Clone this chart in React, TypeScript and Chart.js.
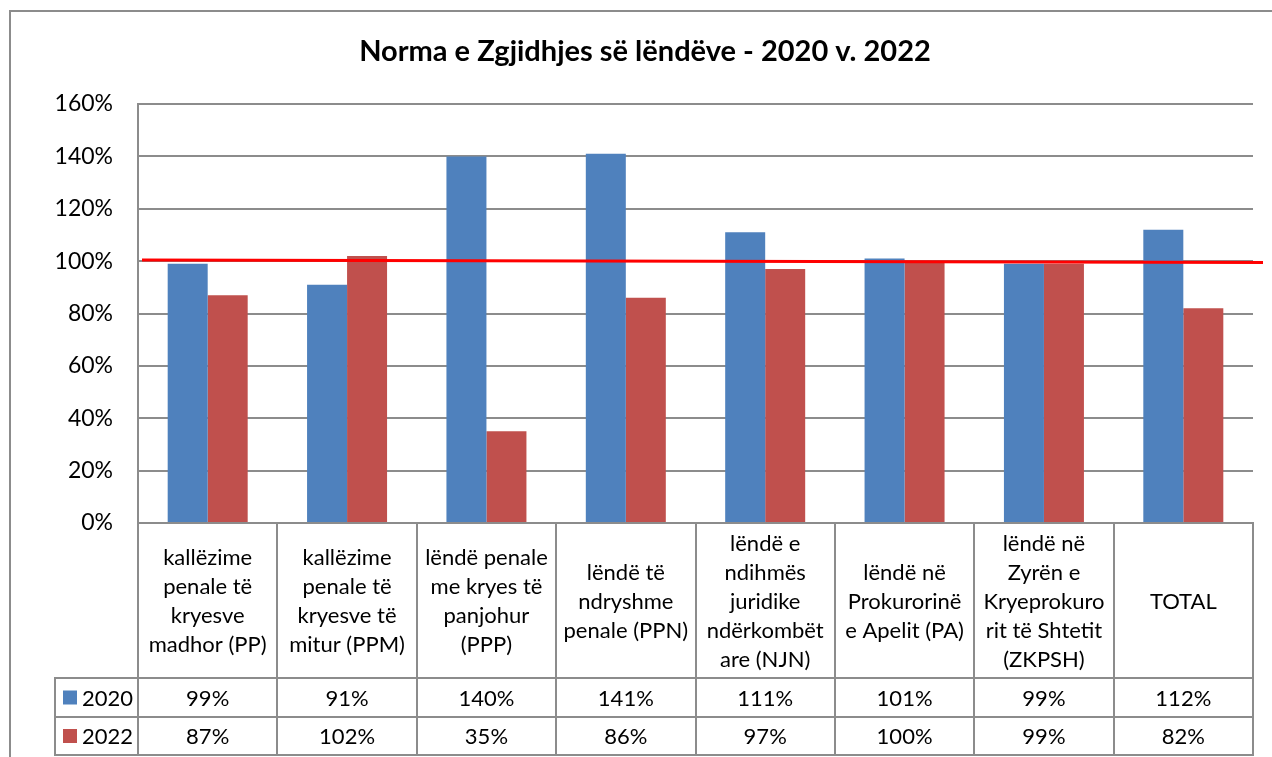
import React, { useEffect, useRef } from 'react';
import { Chart, registerables } from 'chart.js';

Chart.register(...registerables);

// ---------- data ----------
const TITLE = 'Norma e Zgjidhjes së lëndëve - 2020 v. 2022';

const CATEGORIES: string[][] = [
  ['kallëzime', 'penale të', 'kryesve', 'madhor (PP)'],
  ['kallëzime', 'penale të', 'kryesve të', 'mitur (PPM)'],
  ['lëndë penale', 'me kryes të', 'panjohur', '(PPP)'],
  ['lëndë të', 'ndryshme', 'penale (PPN)'],
  ['lëndë e', 'ndihmës', 'juridike', 'ndërkombët', 'are (NJN)'],
  ['lëndë në', 'Prokurorinë', 'e Apelit (PA)'],
  ['lëndë në', 'Zyrën e', 'Kryeprokuro', 'rit të Shtetit', '(ZKPSH)'],
  ['TOTAL'],
];

const SERIES_NAMES = ['2020', '2022'];
const VALUES_2020 = [99, 91, 140, 141, 111, 101, 99, 112];
const VALUES_2022 = [87, 102, 35, 86, 97, 100, 99, 82];

const Y_MIN = 0;
const Y_MAX = 160;
const Y_STEP = 20;

// hand-drawn red reference line near 100% (start value, end value)
const REFERENCE_LINE = [100.4, 99.5];

// ---------- style ----------
const BLUE = '#4F81BD';
const RED = '#C0504D';
const GRID = '#8c8c8c';
const FONT = 'Lato';

const tablePlugin = {
  id: 'dataTable',
  afterDatasetsDraw(chart: any) {
    const ctx = chart.ctx;
    const ys = chart.scales.y;
    const { left, right } = chart.chartArea;
    const y0 = ys.getPixelForValue(REFERENCE_LINE[0]);
    const y1 = ys.getPixelForValue(REFERENCE_LINE[1]);
    ctx.save();
    ctx.strokeStyle = '#FF0000';
    ctx.lineWidth = 3;
    ctx.beginPath();
    ctx.moveTo(left + 4, y0);
    ctx.lineTo(right + 10, y1);
    ctx.stroke();
    ctx.restore();
  },
  afterDraw(chart: any) {
    const ctx = chart.ctx;
    const xs = chart.scales.x;
    const { left, right, bottom } = chart.chartArea;
    const labels = chart.data.labels as string[][];
    const n = labels.length;
    const step = (right - left) / n;
    const headerBottom = bottom + 155;
    const row1Bottom = headerBottom + 39;
    const row2Bottom = row1Bottom + 38;
    const legendLeft = 55;

    ctx.save();
    ctx.strokeStyle = GRID;
    ctx.lineWidth = 2;
    ctx.beginPath();
    // vertical separators
    for (let i = 0; i <= n; i++) {
      const x = Math.round(left + i * step);
      ctx.moveTo(x, bottom);
      ctx.lineTo(x, row2Bottom);
    }
    ctx.moveTo(legendLeft, headerBottom);
    ctx.lineTo(legendLeft, row2Bottom);
    // horizontal lines
    [headerBottom, row1Bottom, row2Bottom].forEach((y) => {
      ctx.moveTo(legendLeft - 1, y);
      ctx.lineTo(Math.round(right) + 1, y);
    });
    ctx.stroke();

    // category labels
    ctx.fillStyle = '#000';
    ctx.textAlign = 'center';
    ctx.textBaseline = 'middle';
    ctx.font = `22px ${FONT}`;
    const lh = 29;
    const headerCenter = (bottom + headerBottom) / 2 + 1;
    labels.forEach((lines, i) => {
      const cx = xs.getPixelForValue(i);
      const startY = headerCenter - ((lines.length - 1) * lh) / 2;
      lines.forEach((line, j) => ctx.fillText(line, cx, startY + j * lh));
    });

    // value rows + legend keys
    const rowCenters = [(headerBottom + row1Bottom) / 2, (row1Bottom + row2Bottom) / 2];
    chart.data.datasets.forEach((ds: any, k: number) => {
      const cy = rowCenters[k];
      ctx.fillStyle = '#000';
      ctx.textAlign = 'center';
      (ds.data as number[]).forEach((v, i) => {
        ctx.fillText(`${v}%`, xs.getPixelForValue(i), cy + 1);
      });
      ctx.fillStyle = ds.backgroundColor;
      ctx.fillRect(63, cy - 7, 14, 14);
      ctx.fillStyle = '#000';
      ctx.textAlign = 'left';
      ctx.fillText(ds.label, 82, cy + 1);
    });
    ctx.restore();
  },
};

export default function App() {
  const canvasRef = useRef<HTMLCanvasElement | null>(null);

  useEffect(() => {
    if (!canvasRef.current) return;
    const chart = new Chart(canvasRef.current, {
      type: 'bar',
      data: {
        labels: CATEGORIES as any,
        datasets: [
          { label: SERIES_NAMES[0], data: VALUES_2020, backgroundColor: BLUE, categoryPercentage: 0.574, barPercentage: 1 },
          { label: SERIES_NAMES[1], data: VALUES_2022, backgroundColor: RED, categoryPercentage: 0.574, barPercentage: 1 },
        ],
      },
      options: {
        animation: false,
        responsive: false,
        devicePixelRatio: 1,
        layout: { padding: { left: 37, right: 19, top: 0, bottom: 0 } },
        plugins: {
          legend: { display: false },
          tooltip: { enabled: false },
          title: {
            display: true,
            text: TITLE,
            color: '#000',
            font: { family: FONT, size: 29, weight: 'bold' },
            padding: { top: 34.6, bottom: 34.6 },
          },
        },
        scales: {
          x: {
            grid: { display: false },
            border: { display: true, color: GRID, width: 2 },
            ticks: { display: false },
            afterFit: (s: any) => {
              s.height = 234;
            },
          },
          y: {
            min: Y_MIN,
            max: Y_MAX,
            ticks: {
              stepSize: Y_STEP,
              padding: 25,
              color: '#000',
              font: { family: FONT, size: 23 },
              callback: (v: any) => `${v}%`,
            },
            grid: { color: GRID, lineWidth: 2, drawTicks: false },
            border: { display: true, color: GRID, width: 2 },
            afterFit: (s: any) => {
              s.width = 101;
            },
          },
        },
      },
      plugins: [tablePlugin],
    });
    return () => chart.destroy();
  }, []);

  return (
    <div
      style={{
        position: 'fixed',
        left: 0,
        top: 0,
        width: 1272,
        height: 757,
        overflow: 'hidden',
        background: '#fff',
      }}
    >
      <div
        style={{
          position: 'absolute',
          left: 9,
          top: 10,
          width: 1400,
          height: 900,
          border: `2px solid ${GRID}`,
        }}
      />
      <canvas
        ref={canvasRef}
        width={1272}
        height={757}
        style={{ position: 'absolute', left: 0, top: 0, width: 1272, height: 757 }}
      />
    </div>
  );
}
